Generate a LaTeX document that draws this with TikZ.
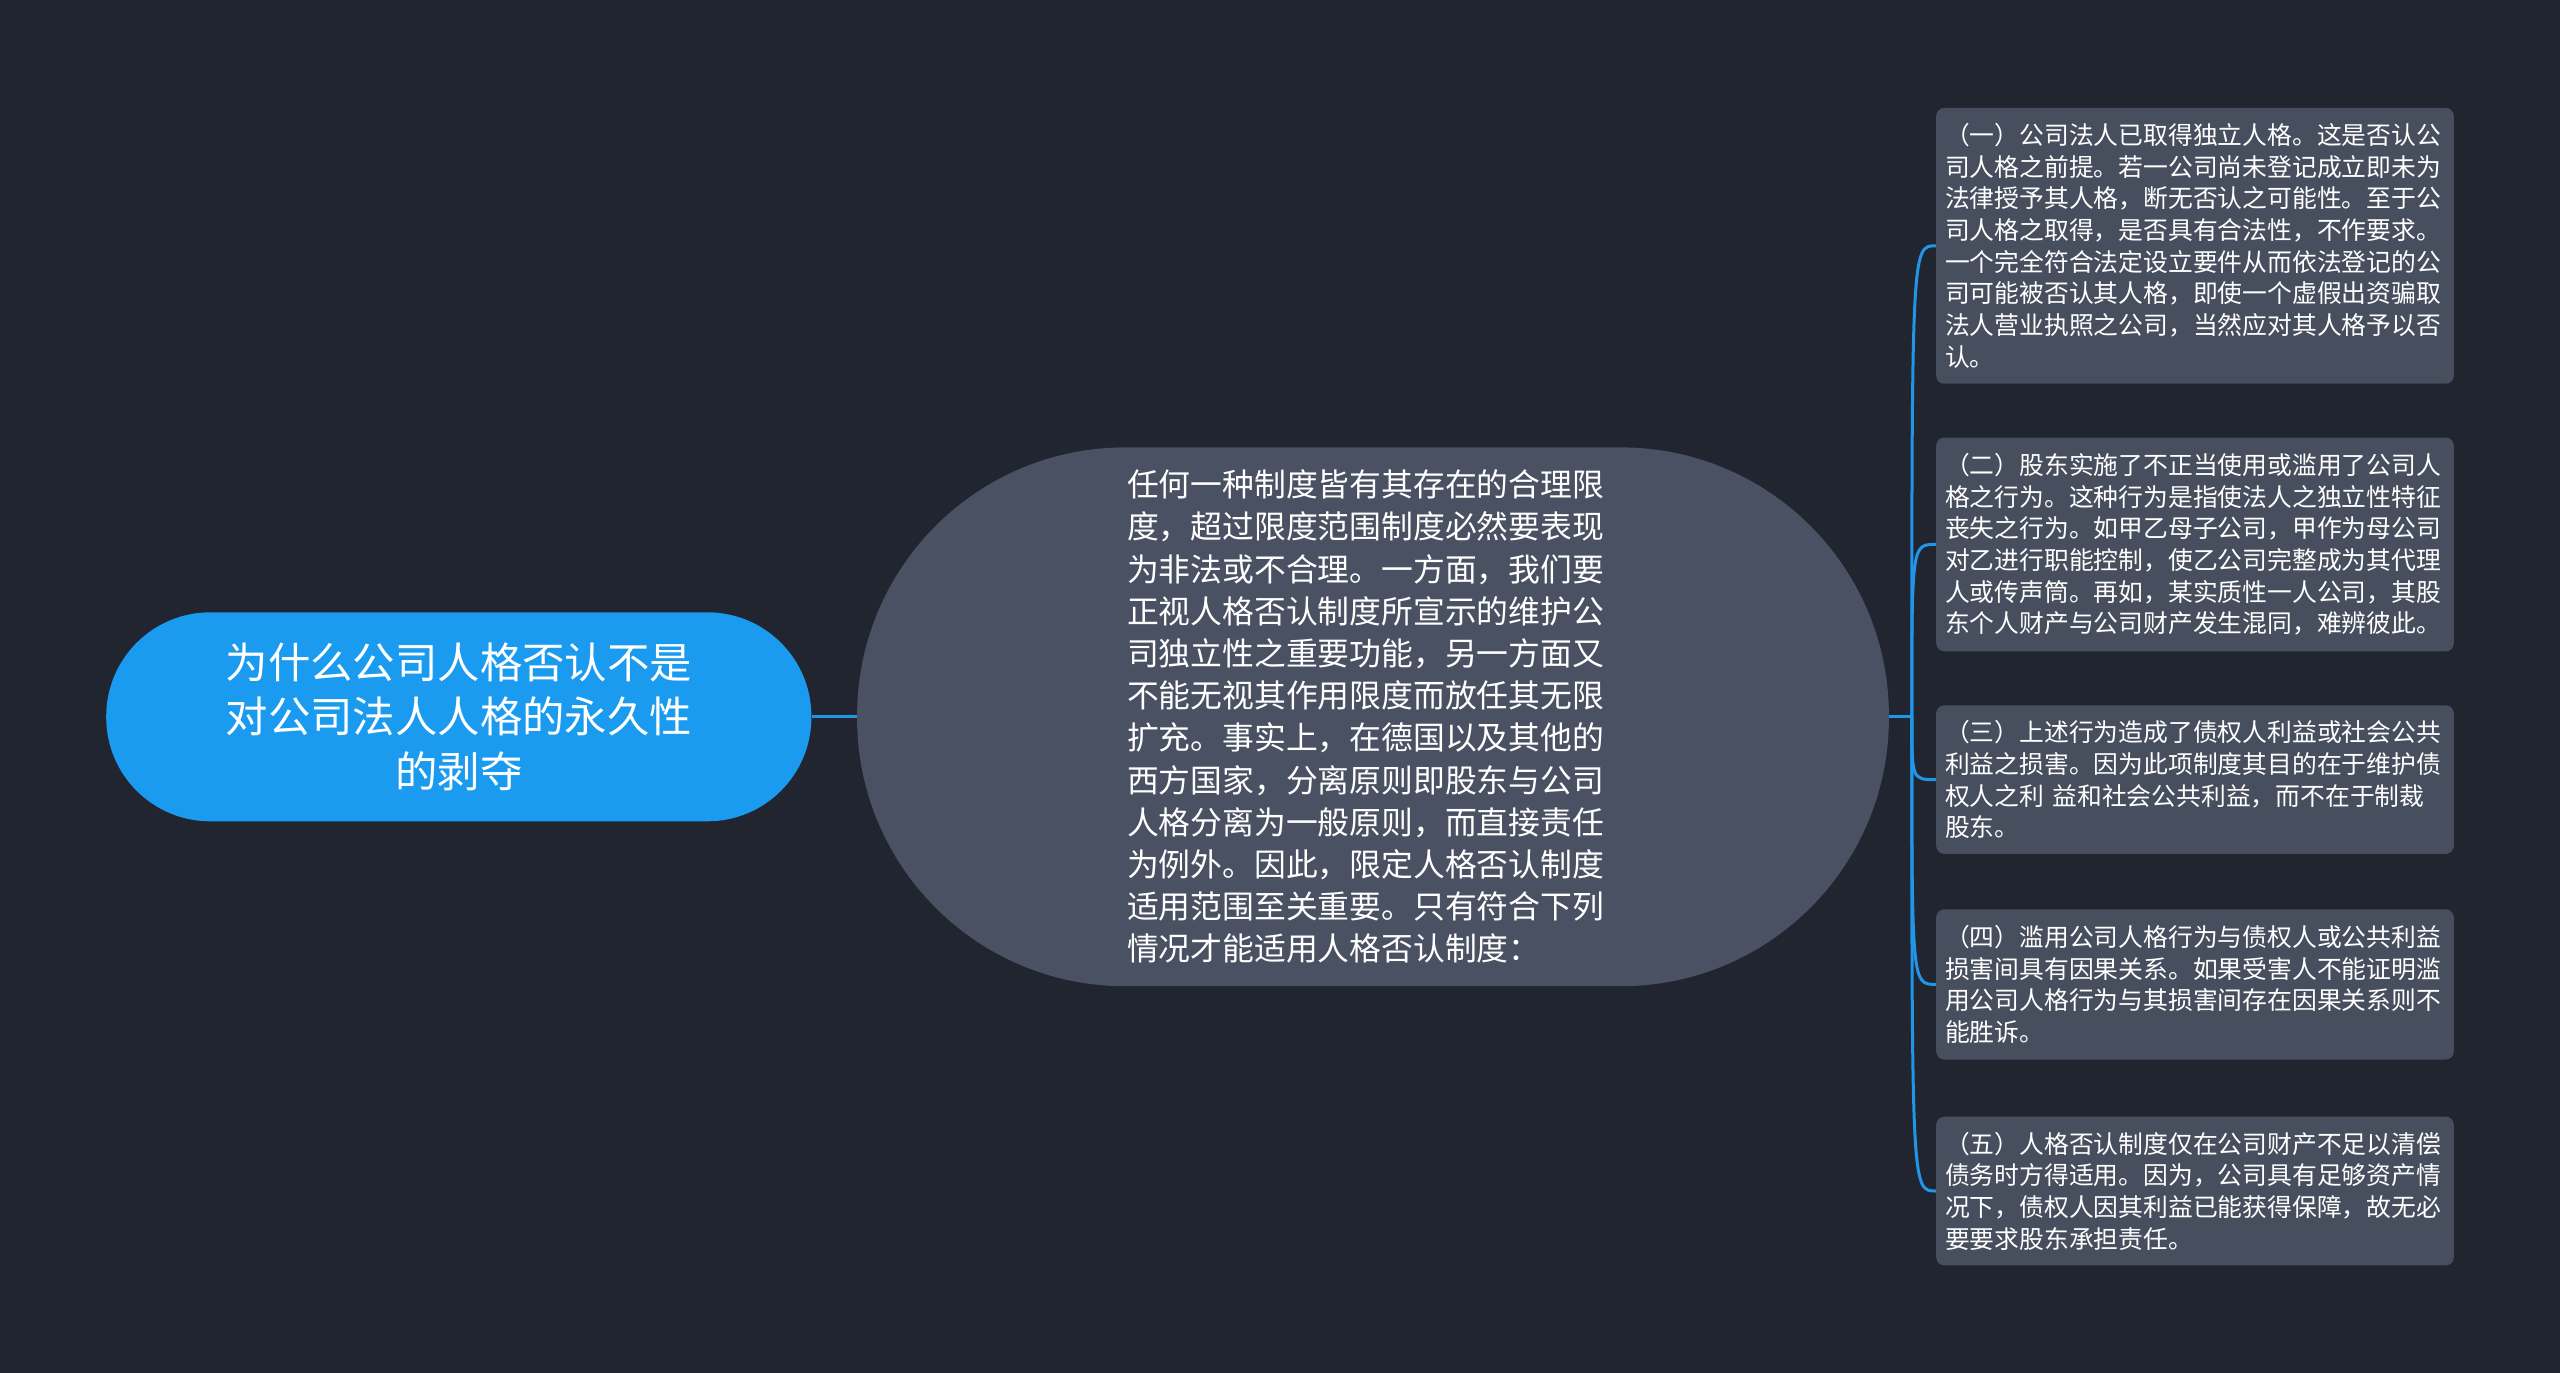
\documentclass[tikz,border=0pt]{standalone}
\usepackage{fontspec}
\newfontfamily\cjk{Noto Sans CJK SC}

\definecolor{bgcol}{HTML}{212530}
\definecolor{rootblue}{HTML}{1A9BF0}
\definecolor{midgray}{HTML}{4A5162}
\definecolor{boxgray}{HTML}{474E5D}
\definecolor{linkblue}{HTML}{2196E8}

\tikzset{
  rootnode/.style={rectangle, rounded corners=52pt, fill=rootblue, text=white,
    minimum width=352.6pt, minimum height=104.5pt, inner sep=0pt, align=center,
    font=\cjk\fontsize{21.2}{27.4}\selectfont},
  midnode/.style={rectangle, rounded corners=134pt, fill=midgray, text=white,
    minimum width=515.9pt, minimum height=269.4pt, text width=246pt, inner sep=0pt,
    align=left, font=\cjk\fontsize{15.9}{21.1}\selectfont},
  leafnode/.style={rectangle, rounded corners=4pt, fill=boxgray, text=white,
    minimum width=258.8pt, text width=250pt, inner sep=0pt,
    align=left, font=\cjk\fontsize{12.4}{15.85}\selectfont},
  link/.style={color=linkblue, line width=1.5pt},
  branch/.style={to path={.. controls (\tikztostart |- \tikztotarget) .. (\tikztotarget)}}
}

\begin{document}
\begin{tikzpicture}[x=1pt, y=1pt]
   \useasboundingbox (0,0) rectangle (1280,-686);
   \fill[bgcol] (-5,5) rectangle (1285,-691);

   %root and main text
   \node[rootnode] (root) at (229.4,-358.4) {为什么公司人格否认不是\\对公司法人人格的永久性\\的剥夺};
   \node[midnode] (mid) at (686.5,-358.4) {任何一种制度皆有其存在的合理限\\
度，超过限度范围制度必然要表现\\
为非法或不合理。一方面，我们要\\
正视人格否认制度所宣示的维护公\\
司独立性之重要功能，另一方面又\\
不能无视其作用限度而放任其无限\\
扩充。事实上，在德国以及其他的\\
西方国家，分离原则即股东与公司\\
人格分离为一般原则，而直接责任\\
为例外。因此，限定人格否认制度\\
适用范围至关重要。只有符合下列\\
情况才能适用人格否认制度：};
   \coordinate (jn) at (955.9,-358.4);

   %conditions
   \node[leafnode, minimum height=137.9pt] (c1) at (1097.5,-122.9) {（一）公司法人已取得独立人格。这是否认公\\
司人格之前提。若一公司尚未登记成立即未为\\
法律授予其人格，断无否认之可能性。至于公\\
司人格之取得，是否具有合法性，不作要求。\\
一个完全符合法定设立要件从而依法登记的公\\
司可能被否认其人格，即使一个虚假出资骗取\\
法人营业执照之公司，当然应对其人格予以否\\
认。};
   \node[leafnode, minimum height=106.9pt] (c2) at (1097.5,-272.2) {（二）股东实施了不正当使用或滥用了公司人\\
格之行为。这种行为是指使法人之独立性特征\\
丧失之行为。如甲乙母子公司，甲作为母公司\\
对乙进行职能控制，使乙公司完整成为其代理\\
人或传声筒。再如，某实质性一人公司，其股\\
东个人财产与公司财产发生混同，难辨彼此。};
   \node[leafnode, minimum height=74.3pt] (c3) at (1097.5,-389.8) {（三）上述行为造成了债权人利益或社会公共\\
利益之损害。因为此项制度其目的在于维护债\\
权人之利 益和社会公共利益，而不在于制裁\\
股东。};
   \node[leafnode, minimum height=75.1pt] (c4) at (1097.5,-492.2) {（四）滥用公司人格行为与债权人或公共利益\\
损害间具有因果关系。如果受害人不能证明滥\\
用公司人格行为与其损害间存在因果关系则不\\
能胜诉。};
   \node[leafnode, minimum height=74.3pt] (c5) at (1097.5,-595.5) {（五）人格否认制度仅在公司财产不足以清偿\\
债务时方得适用。因为，公司具有足够资产情\\
况下，债权人因其利益已能获得保障，故无必\\
要要求股东承担责任。};

  \path[link]
    (root) edge node {} (mid)
    (mid) edge node {} (jn)

    %branches
    (jn) edge [branch] (c1.west)
         edge [branch] (c2.west)
         edge [branch] (c3.west)
         edge [branch] (c4.west)
         edge [branch] (c5.west);
\end{tikzpicture}
\end{document}
